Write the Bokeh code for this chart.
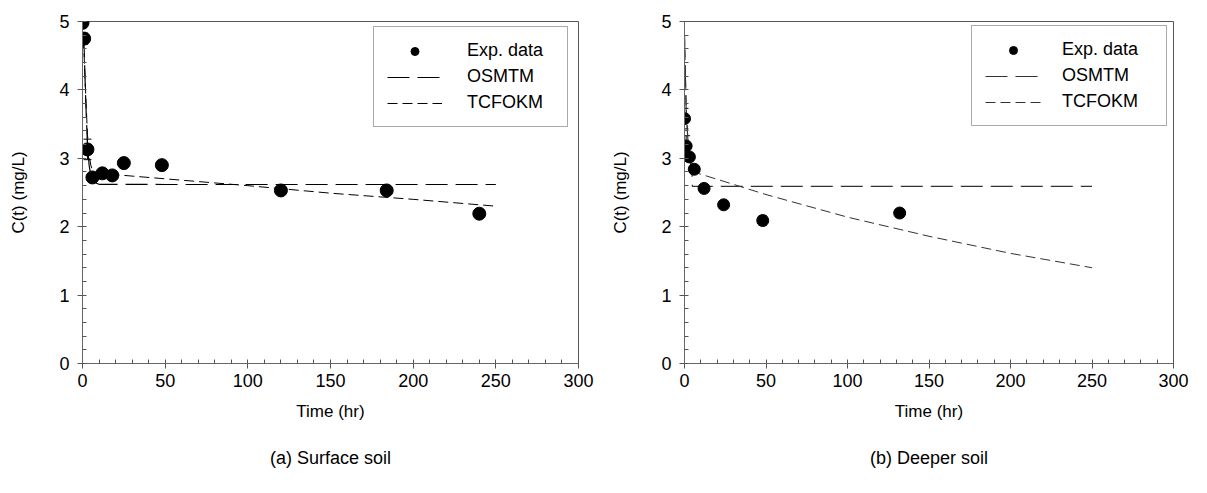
from bokeh.plotting import figure
from bokeh.models import (ColumnDataSource, Whisker, TeeHead, Legend, LegendItem,
                          SingleIntervalTicker, Title, Range1d)
from bokeh.layouts import row
from bokeh.embed import file_html
from bokeh.resources import INLINE

# ---------------- data: (a) Surface soil ----------------
time_a = [0, 1, 3, 6, 12, 18, 25, 48, 120, 184, 240]
conc_a = [4.98, 4.75, 3.13, 2.72, 2.78, 2.75, 2.93, 2.90, 2.53, 2.53, 2.19]
err_a = [0.02, 0.08, 0.15, 0.05, 0.07, 0.04, 0.05, 0.04, 0.05, 0.04, 0.04]

osmtm_t_a = [0.5, 1, 2, 3, 4, 5, 6, 8, 10, 50, 100, 150, 200, 250]
osmtm_c_a = [4.80, 4.60, 3.80, 3.20, 2.90, 2.75, 2.68, 2.64, 2.62, 2.617, 2.617, 2.617, 2.617, 2.617]

tcfokm_t_a = [0.5, 1, 2, 3, 4, 5, 6, 8, 10, 50, 100, 150, 200, 250]
tcfokm_c_a = [4.75, 4.50, 3.90, 3.35, 3.05, 2.90, 2.83, 2.79, 2.78, 2.70, 2.60, 2.49, 2.40, 2.30]

# ---------------- data: (b) Deeper soil ----------------
time_b = [0, 1, 3, 6, 12, 24, 48, 132]
conc_b = [3.58, 3.18, 3.02, 2.84, 2.56, 2.32, 2.09, 2.20]
err_b = [0.15, 0.15, 0.05, 0.04, 0.03, 0.03, 0.07, 0.05]

osmtm_t_b = [0, 1, 2, 3, 4, 4.6, 4.8, 6, 50, 100, 150, 200, 250]
osmtm_c_b = [4.80, 3.70, 3.30, 3.05, 2.92, 2.85, 2.59, 2.59, 2.59, 2.59, 2.59, 2.59, 2.59]

tcfokm_t_b = [0, 0.5, 1, 2, 3, 4, 6, 9, 50, 100, 150, 200, 250]
tcfokm_c_b = [4.80, 4.30, 3.80, 3.30, 3.00, 2.88, 2.80, 2.775, 2.47, 2.14, 1.86, 1.61, 1.40]

x_ticks_interval = 50
y_ticks_interval = 1
x_label = "Time (hr)"
y_label = "C(t) (mg/L)"
legend_labels = ["Exp. data", "OSMTM", "TCFOKM"]

FONT = "Liberation Sans"


def make_panel(t, c, e, ot, oc, tt, tc, caption, width, height, mbl, mbr, mbt, mbb,
               legend_loc, pad, spacing, standoff, glyph_w, label_w, dot_size, line_col):
    p = figure(width=width, height=height, output_backend="svg", toolbar_location=None,
               x_range=Range1d(0, 300), y_range=Range1d(0, 5),
               min_border_left=mbl, min_border_right=mbr, min_border_top=mbt,
               min_border_bottom=mbb)
    p.background_fill_color = "white"
    p.border_fill_color = "white"
    p.outline_line_color = "#555555"
    p.outline_line_width = 1
    p.xgrid.visible = False
    p.ygrid.visible = False

    for ax, interval in ((p.xaxis[0], x_ticks_interval), (p.yaxis[0], y_ticks_interval)):
        ax.ticker = SingleIntervalTicker(interval=interval, num_minor_ticks=5)
        ax.axis_line_color = "#666666"
        ax.major_tick_line_color = "#555555"
        ax.minor_tick_line_color = "#555555"
        ax.major_tick_out = 5
        ax.major_tick_in = 0
        ax.minor_tick_in = 4
        ax.minor_tick_out = 0
        ax.major_label_text_font = FONT
        ax.major_label_text_font_size = "18px"
        ax.major_label_text_color = "black"
        ax.axis_label_text_font = FONT
        ax.axis_label_text_font_size = "17px"
        ax.axis_label_text_font_style = "normal"
        ax.axis_label_text_color = "black"
    p.xaxis[0].axis_label = x_label
    p.yaxis[0].axis_label = y_label
    p.xaxis[0].major_label_standoff = 5
    p.xaxis[0].axis_label_standoff = 12
    p.yaxis[0].major_label_standoff = 8
    p.yaxis[0].axis_label_standoff = 28

    r_os = p.line(ot, oc, line_color=line_col, line_width=1.2, line_dash="22 8")
    r_tc = p.line(tt, tc, line_color=line_col, line_width=1.0, line_dash="10 5")

    src = ColumnDataSource(dict(t=t, c=c,
                                lo=[ci - ei for ci, ei in zip(c, e)],
                                hi=[ci + ei for ci, ei in zip(c, e)]))
    w = Whisker(source=src, base="t", lower="lo", upper="hi", line_color="black",
                line_width=1,
                upper_head=TeeHead(size=8, line_color="black", line_width=1),
                lower_head=TeeHead(size=8, line_color="black", line_width=1))
    p.add_layout(w)
    r_pts = p.scatter("t", "c", source=src, size=dot_size, color="black")

    legend = Legend(items=[LegendItem(label=legend_labels[0], renderers=[r_pts]),
                           LegendItem(label=legend_labels[1], renderers=[r_os]),
                           LegendItem(label=legend_labels[2], renderers=[r_tc])],
                    location=legend_loc)
    legend.label_text_font = FONT
    legend.label_text_font_size = "18px"
    legend.label_text_color = "black"
    legend.glyph_height = 20
    legend.label_height = 20
    legend.glyph_width = glyph_w
    legend.label_standoff = standoff
    legend.label_width = label_w
    legend.padding = pad
    legend.spacing = spacing
    legend.margin = 0
    legend.border_line_color = "#555555"
    legend.border_line_width = 1
    legend.background_fill_color = "white"
    legend.background_fill_alpha = 1
    p.add_layout(legend, "center")

    cap = Title(text=caption, align="center", text_font=FONT, text_font_size="18px",
                text_font_style="normal", text_color="black", standoff=44)
    p.add_layout(cap, "below")
    return p


p1 = make_panel(time_a, conc_a, err_a, osmtm_t_a, osmtm_c_a, tcfokm_t_a, tcfokm_c_a,
                "(a) Surface soil", width=608, height=490, mbl=82, mbr=30, mbt=16, mbb=127,
                legend_loc=(291, 236), pad=13, spacing=5, standoff=25, glyph_w=55,
                label_w=87, dot_size=13, line_col="black")
p2 = make_panel(time_b, conc_b, err_b, osmtm_t_b, osmtm_c_b, tcfokm_t_b, tcfokm_c_b,
                "(b) Deeper soil", width=590, height=490, mbl=74, mbr=25, mbt=21, mbb=123,
                legend_loc=(287, 237), pad=13, spacing=5, standoff=21, glyph_w=56,
                label_w=91, dot_size=12, line_col="#333333")

layout = row(p1, p2)
open("out.html", "w").write(file_html(layout, INLINE))
